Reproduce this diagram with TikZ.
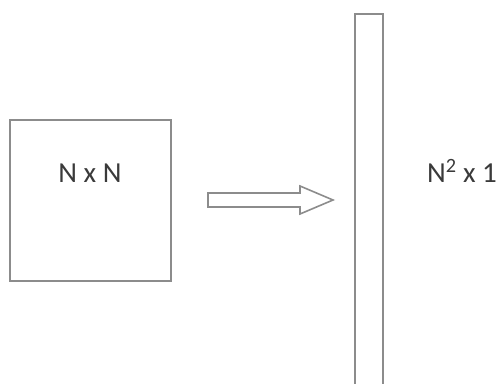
\documentclass[tikz,border=0pt]{standalone}
\usepackage{fontspec}
\setmainfont{Carlito}
\definecolor{edge}{HTML}{8C8C8C}
\definecolor{ink}{HTML}{3A3A3A}
\begin{document}
\begin{tikzpicture}[x=1pt,y=-1pt,
  outline/.style={draw=edge,line width=1.6pt,line join=miter},
  lbl/.style={text=ink,font=\fontsize{29}{29}\selectfont,inner sep=0pt,anchor=base}]
\useasboundingbox (0,0) rectangle (498,383);
% square
\node[outline,minimum width=161pt,minimum height=161pt,inner sep=0pt] (sq) at (90.5,200.5) {};
\node[lbl] (nxn) at (90,182) {N x N};
% block arrow
\draw[outline] (208,193) -- (300,193) -- (300,186) -- (333,200) -- (300,214) -- (300,207) -- (208,207) -- cycle;
% tall vector
\coordinate (vbl) at (355,384);
\coordinate (vbr) at (383,384);
\draw[outline] (vbl) -- (355,14) -- (383,14) -- (vbr);
\node[lbl] (n2) at (462,182) {N\textsuperscript{2} x 1};
\end{tikzpicture}
\end{document}
